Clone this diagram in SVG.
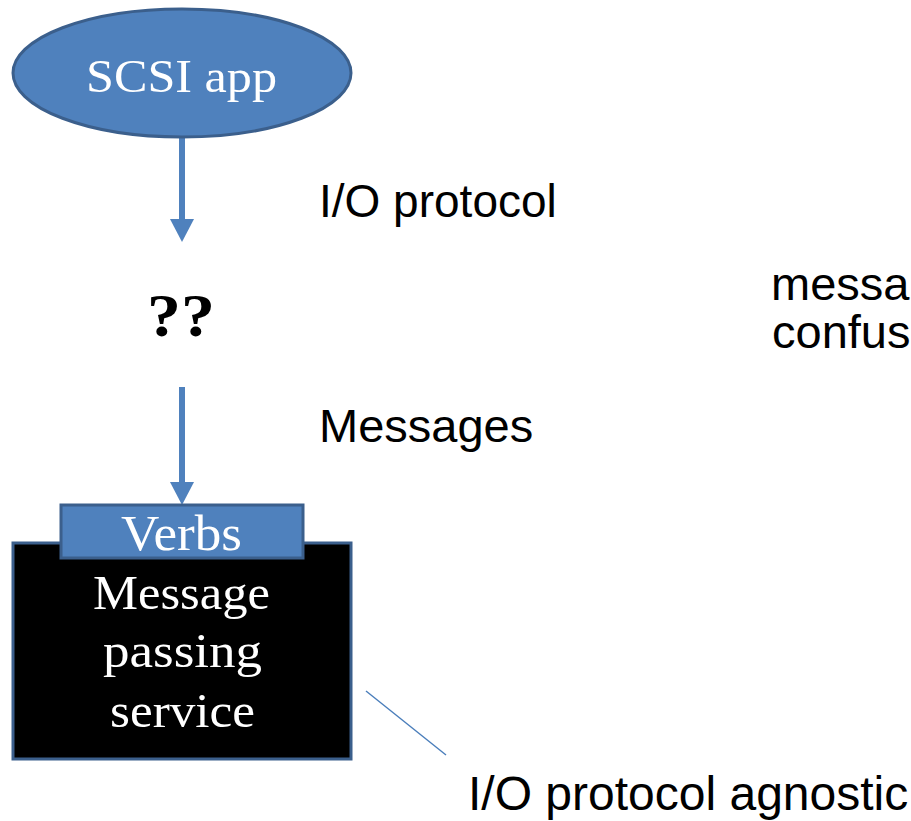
<svg xmlns="http://www.w3.org/2000/svg" width="911" height="821" viewBox="0 0 911 821">
  <style>
    .shape-blue { fill: #4f81bd; stroke: #3b5f8c; stroke-width: 3; }
    .shape-dark { fill: #000000; stroke: #3b5f8c; stroke-width: 3; }
    .serif-white { font-family: "Liberation Serif", "Times New Roman", serif; fill: #ffffff; text-anchor: start; }
    .sans-black { font-family: "Liberation Sans", Arial, sans-serif; fill: #000000; }
    .flow { stroke: #4f81bd; stroke-width: 6; fill: none; }
    .callout { stroke: #4a7ebb; stroke-width: 1.5; fill: none; }
  </style>
  <defs>
    <marker id="head" markerUnits="userSpaceOnUse" markerWidth="24" markerHeight="24"
            viewBox="0 0 23 24" refX="0" refY="12" orient="auto">
      <path d="M0,0 L23,12 L0,24 Z" fill="#4f81bd"/>
    </marker>
  </defs>

  <rect width="911" height="821" fill="#ffffff"/>

  <!-- connectors -->
  <g id="connectors">
    <line class="flow" x1="182" y1="138" x2="182" y2="219" marker-end="url(#head)"/>
    <line class="flow" x1="182" y1="387" x2="182" y2="482" marker-end="url(#head)"/>
    <line class="callout" x1="366" y1="691" x2="446" y2="755"/>
  </g>

  <!-- application ellipse -->
  <g id="scsi-app">
    <ellipse class="shape-blue" cx="182" cy="73" rx="169" ry="64"/>
    <text class="serif-white" x="86" y="92" font-size="47" textLength="191" lengthAdjust="spacingAndGlyphs">SCSI app</text>
  </g>

  <!-- unknown middle layer -->
  <g id="unknown">
    <text x="147" y="336" font-family="Liberation Serif, 'Times New Roman', serif" font-weight="bold" font-size="62" textLength="68" lengthAdjust="spacingAndGlyphs" fill="#000000">??</text>
  </g>

  <!-- message passing service with verbs interface -->
  <g id="message-passing-service">
    <rect class="shape-dark" x="13" y="543" width="338" height="216"/>
    <text class="serif-white" x="93" y="609" font-size="48" textLength="177" lengthAdjust="spacingAndGlyphs">Message</text>
    <text class="serif-white" x="103" y="667" font-size="48" textLength="159" lengthAdjust="spacingAndGlyphs">passing</text>
    <text class="serif-white" x="110" y="727" font-size="48" textLength="145" lengthAdjust="spacingAndGlyphs">service</text>
  </g>
  <g id="verbs">
    <rect class="shape-blue" x="61" y="505" width="242" height="53"/>
    <text class="serif-white" x="121" y="550" font-size="50" textLength="121" lengthAdjust="spacingAndGlyphs">Verbs</text>
  </g>

  <!-- labels -->
  <g id="labels">
    <text class="sans-black" x="319" y="217" font-size="46">I/O protocol</text>
    <text class="sans-black" x="319" y="442" font-size="47">Messages</text>
    <text class="sans-black" x="771" y="300" font-size="47">messa</text>
    <text class="sans-black" x="772" y="348" font-size="47">confus</text>
    <text class="sans-black" x="468" y="810" font-size="48">I/O protocol agnostic</text>
  </g>
</svg>
